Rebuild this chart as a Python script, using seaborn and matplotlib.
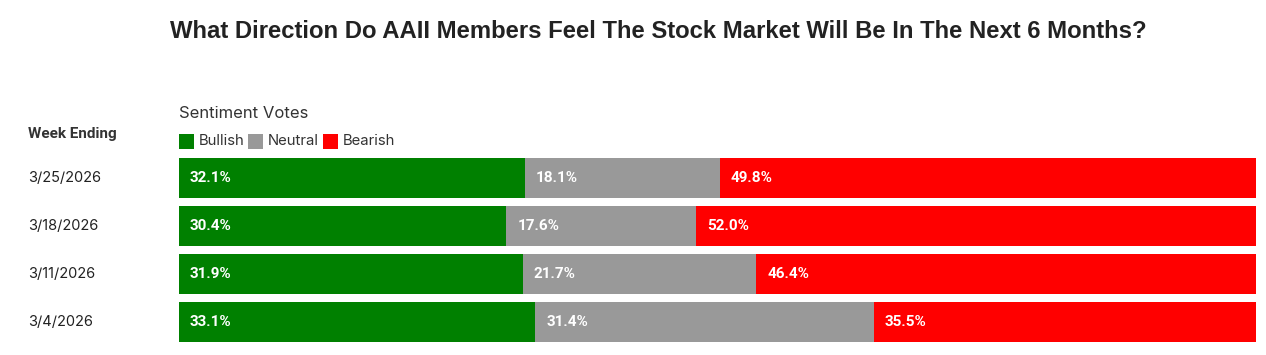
import matplotlib
matplotlib.use("Agg")
import matplotlib.pyplot as plt
from matplotlib.patches import Rectangle
import seaborn as sns
import pandas as pd
import numpy as np

weeks = ["3/25/2026", "3/18/2026", "3/11/2026", "3/4/2026"]
bullish = [32.1, 30.4, 31.9, 33.1]
neutral = [18.1, 17.6, 21.7, 31.4]
bearish = [49.8, 52.0, 46.4, 35.5]
series = ["Bullish", "Neutral", "Bearish"]
colors = ["#008000", "#999999", "#ff0000"]

title = "What Direction Do AAII Members Feel The Stock Market Will Be In The Next 6 Months?"

sns.set_theme(style="white")
plt.rcParams["font.family"] = ["Roboto", "DejaVu Sans"]

W, H = 1266, 355
fig = plt.figure(figsize=(W / 100, H / 100), dpi=100)
ax = fig.add_axes([179 / W, 1 - 346 / H, (1256 - 179) / W, 192 / H])

df = pd.DataFrame({"week": weeks, "Bullish": bullish, "Neutral": neutral, "Bearish": bearish})
df["c1"] = df["Bullish"]
df["c2"] = df["Bullish"] + df["Neutral"]
df["c3"] = df["c2"] + df["Bearish"]

for col, c in zip(["c3", "c2", "c1"], colors[::-1]):
    sns.barplot(data=df, x=col, y="week", order=weeks, color=c, width=40 / 48,
                saturation=1, ax=ax, orient="h", edgecolor="none", linewidth=0)

ax.set_xlim(0, 100)
ax.set_ylim(3.5, -0.5)
ax.axis("off")

starts = {"Bullish": [0] * 4, "Neutral": list(df["c1"]), "Bearish": list(df["c2"])}
vals = {"Bullish": bullish, "Neutral": neutral, "Bearish": bearish}
off = 11 / (1256 - 179) * 100
for s in series:
    for i in range(len(weeks)):
        ax.text(starts[s][i] + off, i, f"{vals[s][i]:.1f}%", color="white",
                fontsize=11, fontweight="bold", va="center", ha="left",
                family=["Roboto", "DejaVu Sans"])

# row labels
for i, w in enumerate(weeks):
    y = 178 + 48 * i
    fig.text(28 / W, 1 - y / H, w, fontsize=10.5, color="#222222", va="center", ha="left",
             family=["Inter", "Roboto", "DejaVu Sans"])

fig.text(28 / W, 1 - 134 / H, "Week Ending", fontsize=11, fontweight="bold", color="#333333",
         va="center", ha="left", family=["Roboto", "DejaVu Sans"])

fig.text(658 / W, 1 - 31 / H, title, fontsize=17.2, fontweight="bold", color="#222222",
         va="center", ha="center", family=["Liberation Sans", "DejaVu Sans"])

fig.text(179 / W, 1 - 114 / H, "Sentiment Votes", fontsize=12, color="#333333",
         va="center", ha="left", family=["Inter", "Roboto", "DejaVu Sans"])

leg_x = [179, 248, 323]
for s, c, x in zip(series, colors, leg_x):
    fig.patches.append(Rectangle((x / W, 1 - 149 / H), 15 / W, 15 / H, transform=fig.transFigure,
                                 facecolor=c, edgecolor="none"))
    fig.text((x + 20) / W, 1 - 141 / H, s, fontsize=10.7, color="#333333", va="center", ha="left",
             family=["Inter", "Roboto", "DejaVu Sans"])

fig.savefig("out.png", dpi=100)
